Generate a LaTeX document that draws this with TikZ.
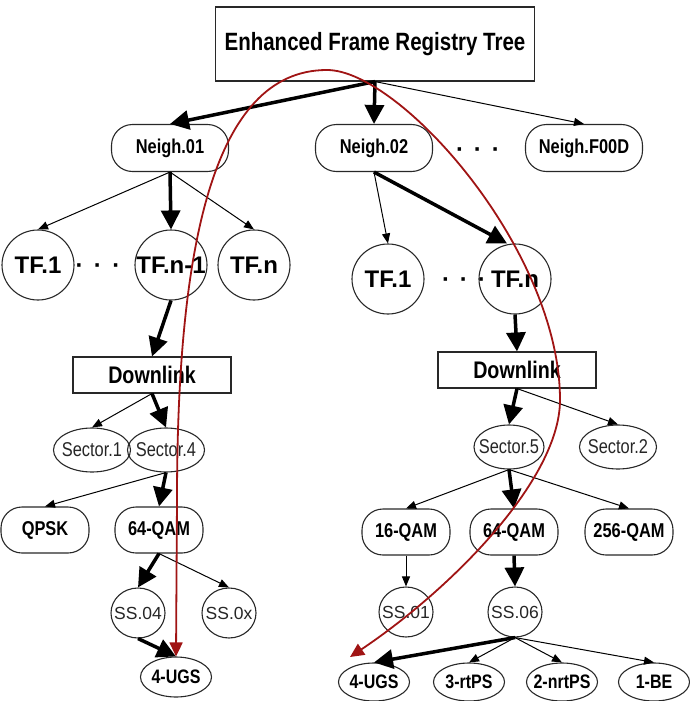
\documentclass[tikz,border=0pt]{standalone}
\usepackage{fontspec}
\setmainfont{Liberation Sans}
\newfontfamily\narrowfont[FakeStretch=0.82]{Liberation Sans}
\usetikzlibrary{arrows.meta,shapes.geometric}
\definecolor{darkred}{RGB}{160,20,20}
\definecolor{edge}{RGB}{40,40,40}
\begin{document}
\begin{tikzpicture}[x=1pt,y=-1pt,
  outline/.style={draw=edge, line width=1.1pt, inner sep=0pt},
  rootbox/.style={outline, minimum width=319pt, minimum height=74pt,
    font=\narrowfont\bfseries\fontsize{25}{30}\selectfont},
  dlbox/.style={outline, minimum width=158pt, minimum height=36pt,
    font=\narrowfont\bfseries\fontsize{24}{28}\selectfont},
  pill/.style={outline, rounded corners=21pt, minimum width=117pt, minimum height=47pt,
    font=\narrowfont\bfseries\fontsize{20}{24}\selectfont},
  qam/.style={outline, rounded corners=21pt, minimum width=88pt, minimum height=46pt,
    font=\narrowfont\bfseries\fontsize{20}{24}\selectfont},
  ell/.style={outline, ellipse},
  tflbl/.style={font=\bfseries\fontsize{24}{28}\selectfont},
  seclbl/.style={font=\narrowfont\fontsize{20}{23}\selectfont, text=black!85},
  sslbl/.style={font=\fontsize{17.5}{20}\selectfont, text=black!85},
  ugslbl/.style={font=\narrowfont\bfseries\fontsize{19.5}{22}\selectfont},
  tf/.style={ell, minimum width=72pt, minimum height=70pt},
  sec/.style={ell, minimum width=77pt, minimum height=44pt},
  ss/.style={ell, minimum width=54pt, minimum height=50pt},
  ugs/.style={ell, minimum width=71pt, minimum height=40pt},
  dots/.style={font=\bfseries\fontsize{24}{28}\selectfont, inner sep=0pt},
  thin/.style={-{Triangle[length=10pt,width=8pt]}, line width=1pt, draw=black},
  thick/.style={-{Triangle[length=19pt,width=19pt]}, line width=3.5pt, draw=black},
  redarr/.style={{Triangle[length=14pt,width=13pt]}-{Triangle[length=14pt,width=13pt]},
    line width=1.8pt, draw=darkred}
]
\useasboundingbox (0,0) rectangle (689,701);

% root and neighbourhoods
\node[rootbox] (root) at (375,44) {Enhanced Frame Registry Tree};
\node[pill] (n1) at (170,148) {Neigh.01};
\node[pill] (n2) at (374,148) {Neigh.02};
\node[pill] (nf) at (584,148) {Neigh.F00D};
\node[dots] (dtop) at (478,153) {·\hspace{10pt}·\hspace{10pt}·};

% left branch
\node[tf, label={[tflbl]center:TF.1}] (ta1) at (38,265) {};
\node[tf, label={[tflbl]center:TF.n-1}] (ta2) at (171,265) {};
\node[tf, label={[tflbl]center:TF.n}] (ta3) at (254,265) {};
\node[dots] (dla) at (98,269) {·\hspace{10.5pt}·\hspace{10.5pt}·};
\node[dlbox] (dl1) at (152,375) {Downlink};
\node[sec, label={[seclbl]center:Sector.1}] (s1) at (92,450) {};
\node[sec, label={[seclbl]center:Sector.4}] (s4) at (166,450) {};
\node[qam] (qpsk) at (45,530) {QPSK};
\node[qam] (qa64) at (159,530) {64-QAM};
\node[ss, label={[sslbl]center:SS.04}] (ss04) at (138,613) {};
\node[ss, label={[sslbl]center:SS.0x}] (ss0x) at (229,613) {};
\node[ugs, label={[ugslbl]center:4-UGS}] (ugsa) at (176,677) {};

% right branch
\node[tf, label={[tflbl]center:TF.1}] (tb1) at (388,279) {};
\node[tf, label={[tflbl]center:TF.n}] (tbn) at (515,279) {};
\node[dots] (dlb) at (464,283) {·\hspace{10pt}·\hspace{10pt}·};
\node[dlbox] (dl2) at (517,370) {Downlink};
\node[sec, minimum width=70pt, label={[seclbl]center:Sector.5}] (s5) at (509,447) {};
\node[sec, label={[seclbl]center:Sector.2}] (s2) at (618,447) {};
\node[qam] (q16) at (406,532) {16-QAM};
\node[qam] (qb64) at (514,532) {64-QAM};
\node[qam] (q256) at (629,532) {256-QAM};
\node[ss, label={[sslbl]center:SS.01}] (ss01) at (406,612) {};
\node[ss, label={[sslbl]center:SS.06}] (ss06) at (515,612) {};
\node[ugs, minimum height=38pt, label={[ugslbl]center:4-UGS}] (ugsb) at (374,682) {};
\node[ugs, minimum height=38pt, label={[ugslbl]center:3-rtPS}] (rtps) at (469,682) {};
\node[ugs, minimum height=38pt, label={[ugslbl]center:2-nrtPS}] (nrtps) at (562,682) {};
\node[ugs, minimum height=38pt, label={[ugslbl]center:1-BE}] (be) at (654,682) {};

% connectors
\draw[thick] (root.south) -- (n1.north);
\draw[thick] (root.south) -- (n2.north);
\draw[thin] (root.south) -- (nf.north);

\draw[thin] (n1.south) -- (ta1.north);
\draw[thick] (n1.south) -- (ta2.north);
\draw[thin] (n1.south) -- (ta3.north);
\draw[thick] (ta2.south) -- (dl1.north);
\draw[thin] (dl1.south) -- (s1.north);
\draw[thick] (dl1.south) -- (s4.north);
\draw[thin] (s4.south) -- (qpsk.north);
\draw[thick] (s4.south) -- (qa64.north);
\draw[thick] (qa64.south) -- (ss04.north);
\draw[thin] (qa64.south) -- (ss0x.north);
\draw[thick] (ss04.south) -- (ugsa.north);

\draw[thin] (n2.south) -- (tb1.north);
\draw[thick] (n2.south) -- ([xshift=-8pt]tbn.north);
\draw[thick] (tbn.south) -- (dl2.north);
\draw[thick] (dl2.south) -- (s5.north);
\draw[thin] (dl2.south) -- (s2.north);
\draw[thin] (s5.south) -- (q16.north);
\draw[thick] (s5.south) -- (qb64.north);
\draw[thin] (s5.south) -- (q256.north);
\draw[thin] (q16.south) -- (ss01.north);
\draw[thick] (qb64.south) -- (ss06.north);
\draw[thick] (ss06.south) -- (ugsb.north);
\draw[thin] (ss06.south) -- (rtps.north);
\draw[thin] (ss06.south) -- (nrtps.north);
\draw[thin] (ss06.south) -- (be.north);

% red traversal path
\coordinate (rtip) at (350,657);
\coordinate (rlow) at (177,500);
\coordinate (rpeak) at (327,70);
\coordinate (rside) at (560,400);
\draw[redarr] (ugsa.north) -- (rlow)
  .. controls (177,250) and (212,70) .. (rpeak)
  .. controls (400,70) and (560,250) .. (rside)
  .. controls (560,480) and (450,590) .. (rtip);
\end{tikzpicture}
\end{document}
